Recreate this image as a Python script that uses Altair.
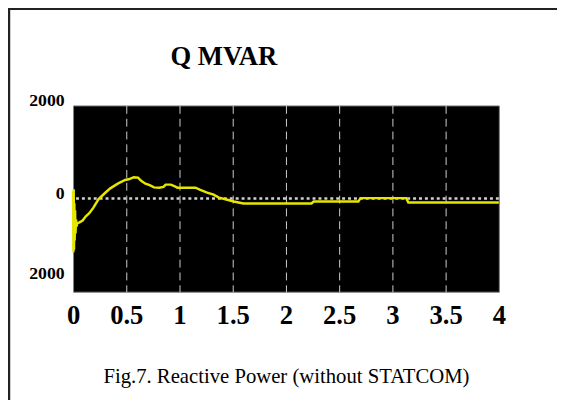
import altair as alt
import pandas as pd

# time (s) and reactive power (MVAR)
t_vals = [0.000, 0.003, 0.006, 0.009, 0.012, 0.015, 0.019, 0.023, 0.028, 0.033,
          0.040, 0.06, 0.09, 0.12, 0.15, 0.19, 0.24, 0.30, 0.35, 0.42,
          0.49, 0.53, 0.57, 0.61, 0.64, 0.68, 0.72, 0.76, 0.81, 0.85,
          0.87, 0.92, 0.95, 0.98, 1.15, 1.19, 1.26, 1.32, 1.37, 1.44,
          1.51, 1.60, 2.24, 2.26, 2.68, 2.70, 3.13, 3.15, 4.00]
q_vals = [150, -1150, 200, -1100, -100, -900, -250, -750, -450, -600,
          -530, -510, -470, -380, -320, -200, -10, 120, 220, 320,
          400, 420, 460, 450, 380, 320, 290, 240, 234, 250,
          300, 300, 270, 234, 234, 190, 128, 85, 21, -21,
          -64, -106, -106, -64, -64, 10, 10, -85, -85]

x_ticks = [0, 0.5, 1, 1.5, 2, 2.5, 3, 3.5, 4]
y_ticks = [-2000, 0, 2000]

title_text = ["Q MVAR"]
caption_text = "Fig.7. Reactive Power (without STATCOM)"

df = pd.DataFrame({"t": t_vals, "q": q_vals})
frame_df = pd.DataFrame({"a": [0]})
title_df = pd.DataFrame({"label": title_text})

SERIF = "Liberation Serif"

x_enc = alt.X(
    "t:Q",
    scale=alt.Scale(domain=[0, 4], nice=False, zero=False),
    axis=alt.Axis(
        values=x_ticks,
        format="~g",
        title=caption_text,
        titleFont=SERIF,
        titleFontSize=21,
        titleFontWeight="normal",
        titleColor="black",
        titlePadding=38,
        labelFont=SERIF,
        labelFontSize=27,
        labelFontWeight="bold",
        labelColor="black",
        labelPadding=11,
        labelFlush=False,
        ticks=False,
        domain=False,
        grid=True,
        gridDash=[8, 5],
        gridWidth=1,
        gridColor={"condition": {"test": "datum.value == 0 || datum.value == 4",
                                 "value": "transparent"},
                   "value": "#d0d0d0"},
    ),
)

y_enc = alt.Y(
    "q:Q",
    scale=alt.Scale(domain=[-2000, 2000], nice=False),
    axis=alt.Axis(
        values=y_ticks,
        labelExpr="format(abs(datum.value), 'd')",
        title=None,
        ticks=False,
        domain=False,
        grid=False,
        labelFont=SERIF,
        labelFontSize=18,
        labelFontWeight="bold",
        labelColor="black",
        labelPadding=9,
        labelFlush=False,
        labelOffset={"condition": {"test": "datum.value < 0", "value": -18},
                     "value": -5},
    ),
)

frame = alt.Chart(frame_df).mark_rect(
    filled=False, stroke="#222222", strokeWidth=2.5
).encode(
    x=alt.value(-65), x2=alt.value(700), y=alt.value(-98), y2=alt.value(600)
)

title_mark = alt.Chart(title_df).mark_text(
    font=SERIF, fontSize=27, fontWeight="bold", color="black",
    align="center", baseline="alphabetic"
).encode(text="label:N", x=alt.value(153), y=alt.value(-41))

zero_line = alt.Chart(frame_df).mark_rule(
    color="#cfcfcf", strokeDash=[3, 3], strokeWidth=2.5
).encode(y=alt.Y(datum=0, type="quantitative"))

line = alt.Chart(df).mark_line(color="#e6e600", strokeWidth=2.5).encode(
    x=x_enc, y=y_enc
)

chart = alt.layer(frame, title_mark, zero_line, line).properties(
    width=432,
    height=189,
    padding={"left": 66, "top": 96, "right": 59, "bottom": 107},
    autosize=alt.AutoSizeParams(type="none"),
    background="white",
).configure_view(fill="black", stroke="#808080", strokeWidth=1)

chart.save("out.html", embed_options={"renderer": "svg", "actions": False})
